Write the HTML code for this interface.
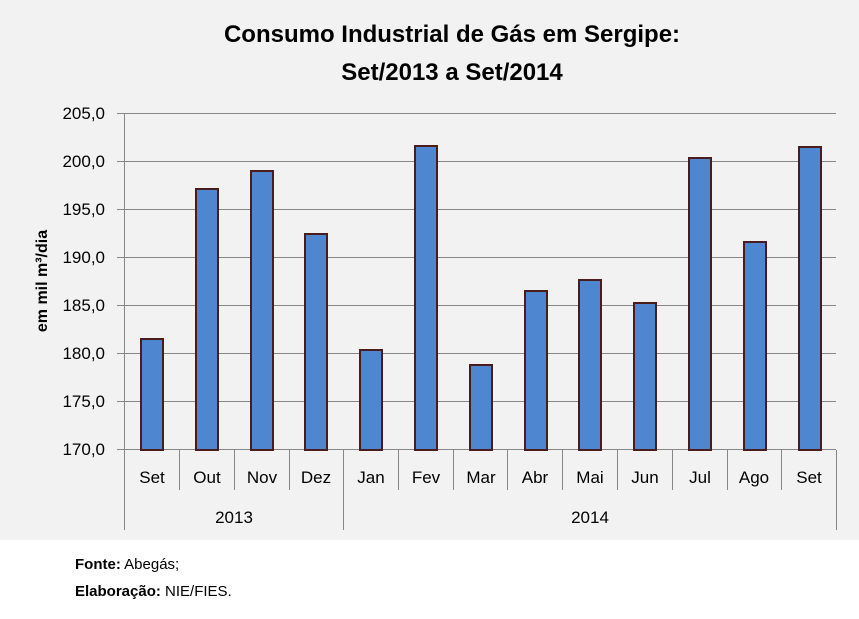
<!DOCTYPE html>
<html><head><meta charset="utf-8"><style>
body{margin:0;width:859px;height:614px;background:#fff;overflow:hidden;font-family:"Liberation Sans",sans-serif}
</style></head><body>
<svg width="859" height="614" xmlns="http://www.w3.org/2000/svg" font-family="Liberation Sans, sans-serif">
<rect x="0" y="0" width="859" height="540" fill="#f2f2f2"/>
<text x="452" y="42" font-size="24" font-weight="bold" text-anchor="middle" fill="#000">Consumo Industrial de Gás em Sergipe:</text>
<text x="452" y="80" font-size="24" font-weight="bold" text-anchor="middle" fill="#000">Set/2013 a Set/2014</text>
<g stroke="#868686" stroke-width="1">
<line x1="117" y1="113.5" x2="836" y2="113.5"/>
<line x1="117" y1="161.5" x2="836" y2="161.5"/>
<line x1="117" y1="209.5" x2="836" y2="209.5"/>
<line x1="117" y1="257.5" x2="836" y2="257.5"/>
<line x1="117" y1="305.5" x2="836" y2="305.5"/>
<line x1="117" y1="353.5" x2="836" y2="353.5"/>
<line x1="117" y1="401.5" x2="836" y2="401.5"/>
<line x1="117" y1="449.5" x2="836" y2="449.5"/>
<line x1="124.5" y1="113" x2="124.5" y2="530"/>
<line x1="343.5" y1="450" x2="343.5" y2="530"/>
<line x1="836.5" y1="450" x2="836.5" y2="530"/>
<line x1="179.5" y1="450" x2="179.5" y2="490"/>
<line x1="234.5" y1="450" x2="234.5" y2="490"/>
<line x1="289.5" y1="450" x2="289.5" y2="490"/>
<line x1="398.5" y1="450" x2="398.5" y2="490"/>
<line x1="453.5" y1="450" x2="453.5" y2="490"/>
<line x1="507.5" y1="450" x2="507.5" y2="490"/>
<line x1="562.5" y1="450" x2="562.5" y2="490"/>
<line x1="617.5" y1="450" x2="617.5" y2="490"/>
<line x1="672.5" y1="450" x2="672.5" y2="490"/>
<line x1="727.5" y1="450" x2="727.5" y2="490"/>
<line x1="781.5" y1="450" x2="781.5" y2="490"/>
</g>
<g font-size="17" text-anchor="end" fill="#000">
<text x="105" y="119">205,0</text><text x="105" y="167">200,0</text><text x="105" y="215">195,0</text>
<text x="105" y="263">190,0</text><text x="105" y="311">185,0</text><text x="105" y="359">180,0</text>
<text x="105" y="407">175,0</text><text x="105" y="455">170,0</text>
</g>
<text transform="translate(47,281) rotate(-90)" font-size="16" font-weight="bold" text-anchor="middle">em mil m³/dia</text>
<g fill="#4f86d0" stroke="#4a1c1c" stroke-width="2">
<rect x="141" y="339" width="22" height="111"/>
<rect x="196" y="189" width="22" height="261"/>
<rect x="251" y="171" width="22" height="279"/>
<rect x="305" y="234" width="22" height="216"/>
<rect x="360" y="350" width="22" height="100"/>
<rect x="415" y="146" width="22" height="304"/>
<rect x="470" y="365" width="22" height="85"/>
<rect x="525" y="291" width="22" height="159"/>
<rect x="579" y="280" width="22" height="170"/>
<rect x="634" y="303" width="22" height="147"/>
<rect x="689" y="158" width="22" height="292"/>
<rect x="744" y="242" width="22" height="208"/>
<rect x="799" y="147" width="22" height="303"/>
</g>
<g font-size="17" text-anchor="middle" fill="#000">
<text x="152" y="483">Set</text><text x="207" y="483">Out</text><text x="262" y="483">Nov</text><text x="316" y="483">Dez</text>
<text x="371" y="483">Jan</text><text x="426" y="483">Fev</text><text x="481" y="483">Mar</text><text x="535" y="483">Abr</text>
<text x="590" y="483">Mai</text><text x="645" y="483">Jun</text><text x="700" y="483">Jul</text><text x="754" y="483">Ago</text><text x="809" y="483">Set</text>
<text x="234" y="523">2013</text><text x="590" y="523">2014</text>
</g>
<text x="75" y="569" font-size="15"><tspan font-weight="bold">Fonte:</tspan> Abegás;</text>
<text x="75" y="596" font-size="15"><tspan font-weight="bold">Elaboração:</tspan> NIE/FIES.</text>
</svg>
</body></html>
